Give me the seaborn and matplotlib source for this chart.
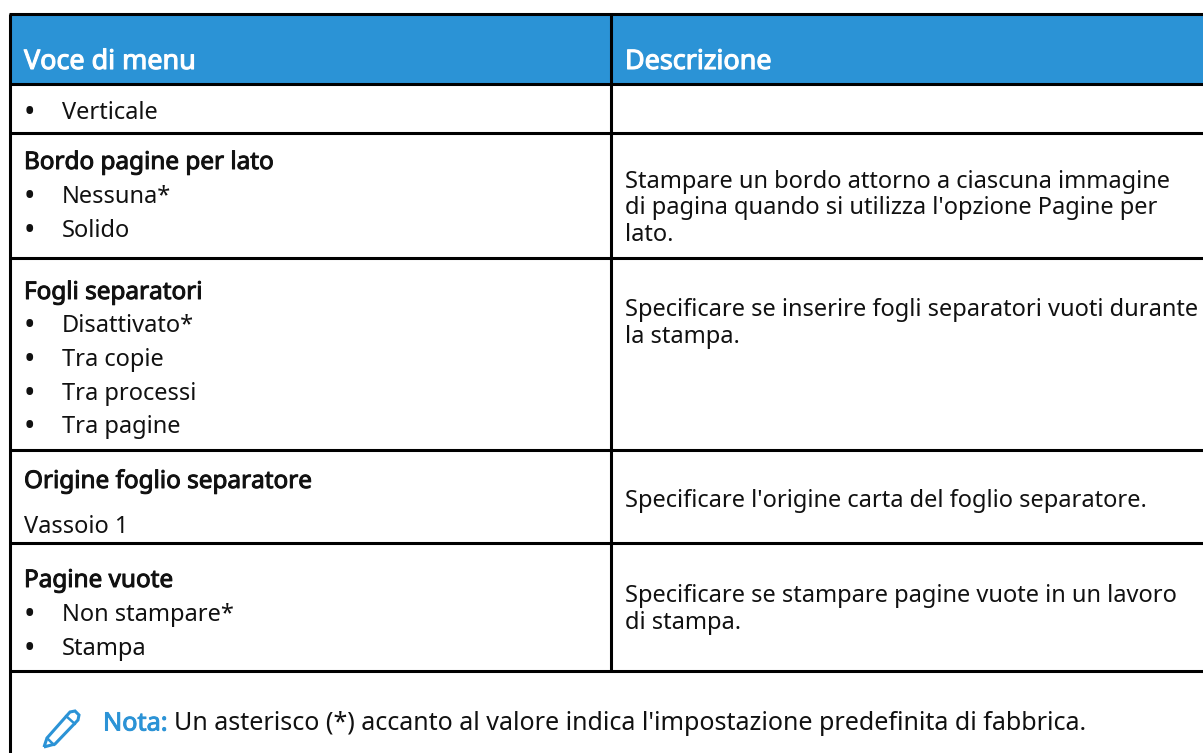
import matplotlib
matplotlib.use("Agg")
import matplotlib.pyplot as plt
import matplotlib.patheffects as pe
from matplotlib.path import Path
from matplotlib.patches import PathPatch, Rectangle
import seaborn as sns

sns.set_style("white")
plt.rcParams['font.family'] = ['Noto Sans', 'DejaVu Sans']

BLUE = "#2b93d6"
col_x = [10, 611]
row_y = [14, 84, 133, 258, 450, 543, 671]
headers = ["Voce di menu", "Descrizione"]
left_lines = [
    ("•", "Verticale", 113),
    ("b", "Bordo pagine per lato", 163),
    ("•", "Nessuna*", 197),
    ("•", "Solido", 231),
    ("b", "Fogli separatori", 293),
    ("•", "Disattivato*", 326),
    ("•", "Tra copie", 360),
    ("•", "Tra processi", 394),
    ("•", "Tra pagine", 427),
    ("b", "Origine foglio separatore", 482),
    ("n", "Vassoio 1", 527),
    ("b", "Pagine vuote", 581),
    ("•", "Non stampare*", 615),
    ("•", "Stampa", 649),
]
right_lines = [
    ("Stampare un bordo attorno a ciascuna immagine", 182),
    ("di pagina quando si utilizza l'opzione Pagine per", 208),
    ("lato.", 235),
    ("Specificare se inserire fogli separatori vuoti durante", 310),
    ("la stampa.", 337),
    ("Specificare l'origine carta del foglio separatore.", 501),
    ("Specificare se stampare pagine vuote in un lavoro", 596),
    ("di stampa.", 623),
]
note_label = "Nota:"
note_text = "Un asterisco (*) accanto al valore indica l'impostazione predefinita di fabbrica."

FS = 17.0
INK = "#111111"


def heavy(colour, width=0.7):
    return [pe.withStroke(linewidth=width, foreground=colour)]


fig = plt.figure(figsize=(12.03, 7.53), dpi=100)
ax = fig.add_axes([0, 0, 1, 1])
ax.set_xlim(0, 1203)
ax.set_ylim(753, 0)
ax.axis("off")

ax.add_patch(Rectangle((col_x[0], row_y[0]), 1203 - col_x[0], row_y[1] - row_y[0], color=BLUE, lw=0))
ax.hlines(row_y, col_x[0] - 1, 1203, color="black", lw=2.2)
ax.vlines(col_x[0], row_y[0], 753, color="black", lw=2.2)
ax.vlines(col_x[1], row_y[0], row_y[-1], color="black", lw=2.2)

for x, label in zip([24, 625], headers):
    ax.text(x, 62, label, color="white", fontsize=19.4, va="center", path_effects=heavy("white", 0.8))

for kind, label, y in left_lines:
    if kind == "b":
        ax.text(24, y, label, fontsize=17.5, color=INK, va="center", path_effects=heavy(INK))
    elif kind == "n":
        ax.text(24, y, label, fontsize=FS, color=INK, va="center")
    else:
        ax.text(29, y + 1, "•", fontsize=FS + 5, color=INK, va="center", ha="center")
        ax.text(62, y, label, fontsize=FS, color=INK, va="center")

for label, y in right_lines:
    ax.text(625, y, label, fontsize=FS, color=INK, va="center")

ax.text(103, 724, note_label, fontsize=18.2, color=BLUE, va="center", path_effects=heavy(BLUE))
ax.text(174, 724, note_text, fontsize=18.05, color=INK, va="center")

pencil = [(44, 747), (47, 738), (70, 712), (75, 711), (79, 715), (78, 720), (55, 744), (44, 747)]
ax.add_patch(PathPatch(Path(pencil), fill=False, edgecolor=BLUE, lw=2.2))
ax.plot([66, 75], [716, 724], color=BLUE, lw=1.8)
ax.plot([47, 54], [738, 745], color=BLUE, lw=1.8)

fig.savefig("out.png", dpi=100)
